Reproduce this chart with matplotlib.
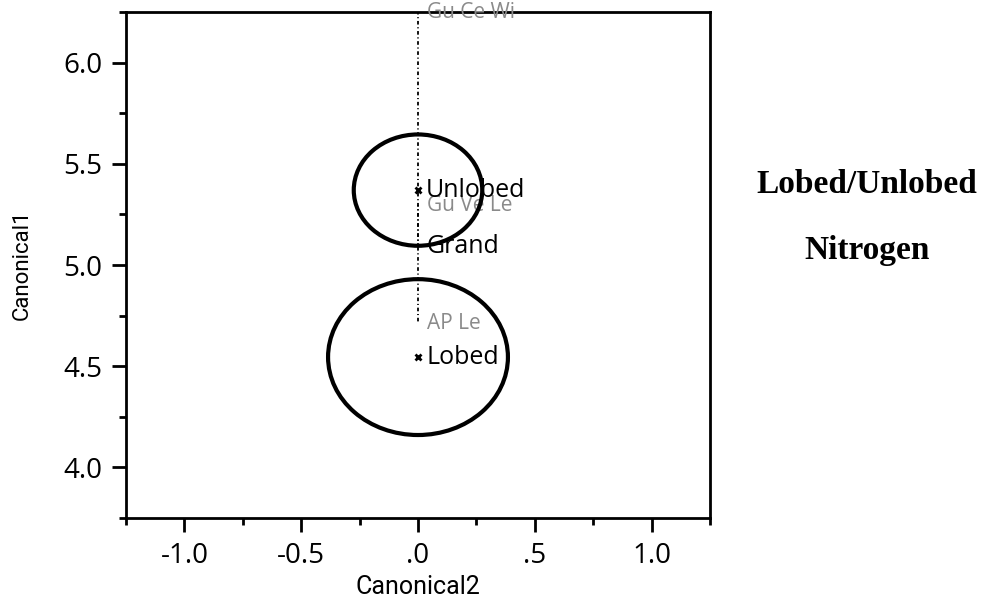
import matplotlib.pyplot as plt
from matplotlib.patches import Ellipse
from matplotlib.ticker import FixedLocator, MultipleLocator

# group means on the canonical axes (Canonical2, Canonical1)
groups = ["Unlobed", "Lobed"]
group_c2 = [0.0, 0.0]
group_c1 = [5.37, 4.545]
group_radius = [0.275, 0.385]

grand = (0.0, 5.09)

# biplot rays drawn out from the grand mean
ray_names = ["Gu Ce Wi", "Gu Ve Le", "AP Le"]
ray_c2 = [0.0, 0.0, 0.0]
ray_c1 = [6.25, 5.295, 4.71]

x_ticks = [-1.0, -0.5, 0.0, 0.5, 1.0]
x_ticklabels = ["-1.0", "-0.5", ".0", ".5", "1.0"]
y_ticks = [4.0, 4.5, 5.0, 5.5, 6.0]
y_ticklabels = ["4.0", "4.5", "5.0", "5.5", "6.0"]

tick_font = ["Open Sans", "DejaVu Sans"]
label_font = ["Roboto", "DejaVu Sans"]

fig = plt.figure(figsize=(9.86, 6.01), dpi=100)
ax = fig.add_axes([126 / 986, 1 - 518 / 601, (710 - 126) / 986, (518 - 12) / 601])
ax.set_xlim(-1.25, 1.25)
ax.set_ylim(3.75, 6.25)

for name, x1, y1 in zip(ray_names, ray_c2, ray_c1):
    ax.plot([grand[0], x1], [grand[1], y1], color="black", lw=1.3,
            ls=(0, (2, 1.5, 0.6, 1.5)), clip_on=False, zorder=2)
    ax.text(x1 + 0.04, y1, name, color="#8a8a8a", fontsize=15,
            family=tick_font, va="center", ha="left", clip_on=False)

for name, cx, cy, r in zip(groups, group_c2, group_c1, group_radius):
    ax.add_patch(Ellipse((cx, cy), 2 * r, 2 * r, fill=False,
                         edgecolor="black", lw=3.0, zorder=3))
    ax.plot(cx, cy, marker="x", color="black", ms=4, mew=2, zorder=4)
    ax.text(cx + 0.035, cy, name, fontsize=18, family=tick_font,
            va="center", ha="left", zorder=5)

ax.text(grand[0] + 0.035, grand[1], "Grand", fontsize=18, family=tick_font,
        va="center", ha="left", zorder=5)

ax.xaxis.set_major_locator(FixedLocator(x_ticks))
ax.set_xticklabels(x_ticklabels)
ax.xaxis.set_minor_locator(MultipleLocator(0.25))
ax.yaxis.set_major_locator(FixedLocator(y_ticks))
ax.set_yticklabels(y_ticklabels)
ax.yaxis.set_minor_locator(MultipleLocator(0.25))

ax.tick_params(which="major", direction="out", length=10, width=2,
               labelsize=20, pad=7)
ax.tick_params(which="minor", direction="out", length=5, width=2)
for lab in ax.get_xticklabels() + ax.get_yticklabels():
    lab.set_family(tick_font)
for sp in ax.spines.values():
    sp.set_linewidth(2.0)

ax.set_xlabel("Canonical2", fontsize=18, family=label_font, labelpad=4)
ax.set_ylabel("Canonical1", fontsize=16, family=label_font)
ax.yaxis.set_label_coords(-0.16, 0.5)

fig.text(867 / 986, 1 - 185 / 601, "Lobed/Unlobed", fontsize=24,
         fontweight="bold", family="Liberation Serif", ha="center", va="center")
fig.text(867 / 986, 1 - 250 / 601, "Nitrogen", fontsize=24,
         fontweight="bold", family="Liberation Serif", ha="center", va="center")

fig.savefig("out.png", dpi=100)
